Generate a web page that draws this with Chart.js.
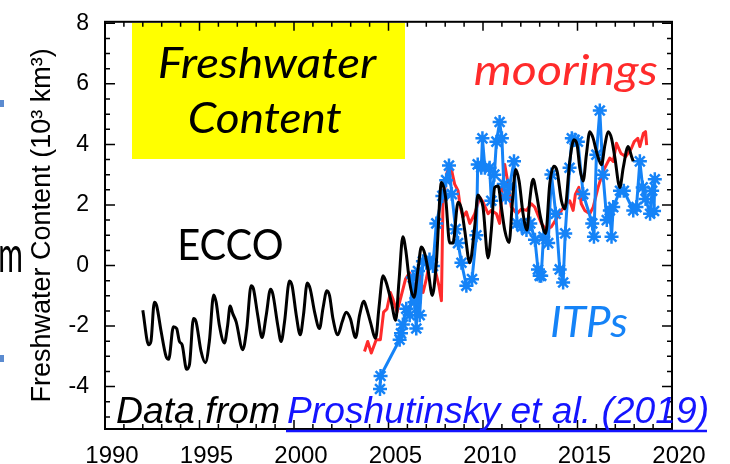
<!DOCTYPE html>
<html>
<head>
<meta charset="utf-8">
<script src="https://cdn.jsdelivr.net/npm/chart.js@4"></script>
<style>
  html, body { margin: 0; padding: 0; background: #fff; }
  canvas { display: block; }
</style>
</head>
<body>
<canvas id="fwc" width="730" height="464"></canvas>
<script>
// tick labels
const xTickYears = [1990, 1995, 2000, 2005, 2010, 2015, 2020];
const yTickValues = [-4, -2, 0, 2, 4, 6, 8];

// ECCO model (black)
const eccoYears = [1992.00,1992.31,1992.43,1992.61,1992.73,1992.97,1993.23,1993.37,1993.62,1993.79,
  1993.94,1994.08,1994.32,1994.47,1994.68,1994.82,1995.08,1995.31,1995.52,1995.75,
  1995.88,1996.05,1996.32,1996.49,1996.62,1996.76,1996.94,1997.29,1997.50,1997.73,
  1997.85,1998.08,1998.31,1998.53,1998.76,1998.88,1999.14,1999.32,1999.50,1999.76,
  1999.90,2000.12,2000.33,2000.50,2000.70,2000.86,2001.09,2001.35,2001.53,2001.74,
  2001.88,2002.06,2002.32,2002.55,2002.76,2002.98,2003.26,2003.47,2003.70,2003.82,
  2004.04,2004.32,2004.49,2004.71,2004.88,2005.15,2005.38,2005.55,2005.76,2005.91,
  2006.12,2006.35,2006.56,2006.74,2006.91,2007.09,2007.32,2007.53,2007.80,2008.02,
  2008.24,2008.41,2008.68,2008.86,2009.03,2009.30,2009.56,2009.73,2009.83,2010.00,
  2010.27,2010.44,2010.62,2010.80,2010.97,2011.15,2011.38,2011.56,2011.73,2011.91,
  2012.12,2012.33,2012.47,2012.65,2012.83,2013.04,2013.32,2013.53,2013.75,2013.92,
  2014.15,2014.33,2014.59,2014.81,2014.98,2015.12,2015.30,2015.47,2015.65,2015.83,
  2016.00,2016.27,2016.45,2016.62,2016.80,2016.98,2017.24,2017.42,2017.68,2017.86,
  2017.95];
const eccoValues = [-1.48,-2.62,-2.51,-1.21,-1.32,-2.18,-3.00,-3.10,-2.02,-2.08,
  -2.51,-2.62,-3.43,-3.27,-1.75,-1.86,-2.83,-3.21,-2.51,-0.97,
  -1.21,-1.97,-2.56,-1.97,-1.34,-1.59,-1.86,-2.78,-2.08,-0.67,
  -0.76,-1.64,-2.38,-1.64,-0.78,-0.94,-1.97,-2.51,-1.86,-0.51,
  -0.67,-1.64,-2.29,-1.64,-0.58,-0.78,-1.54,-2.08,-1.43,-0.83,
  -0.99,-1.75,-2.29,-1.86,-1.54,-1.75,-2.38,-1.64,-1.18,-1.37,
  -1.86,-2.40,-1.43,-0.34,-0.56,-1.21,-1.81,-0.56,0.95,0.52,
  -0.56,-1.05,-0.13,0.61,0.41,-0.13,-0.99,0.09,2.74,2.25,
  0.74,0.74,2.09,1.87,1.17,0.09,1.28,2.33,2.25,1.93,
  0.25,1.17,2.58,2.63,1.93,1.17,0.76,2.14,3.17,2.79,
  1.71,1.17,2.14,2.85,2.36,1.60,1.06,2.69,3.28,3.12,
  2.14,1.87,3.44,4.15,3.98,3.23,2.79,3.66,4.42,4.20,
  3.77,3.33,3.98,4.42,4.20,3.55,2.58,3.23,3.93,3.60,
  3.44];

// moorings (red)
const mooringYears = [2003.73,2003.90,2004.09,2004.35,2004.57,2004.74,2004.92,2005.10,2005.23,2005.45,
  2005.68,2005.90,2006.11,2006.29,2006.47,2006.65,2006.83,2007.00,2007.17,2007.44,
  2007.67,2007.80,2007.88,2008.09,2008.27,2008.50,2008.68,2008.80,2008.94,2009.12,
  2009.30,2009.56,2009.83,2010.00,2010.27,2010.44,2010.71,2010.88,2011.00,2011.15,
  2011.33,2011.50,2011.80,2012.03,2012.30,2012.56,2012.74,2012.91,2013.09,2013.35,
  2013.62,2013.89,2014.15,2014.41,2014.59,2014.77,2014.89,2015.07,2015.20,2015.38,
  2015.65,2015.83,2016.09,2016.36,2016.71,2016.89,2017.06,2017.30,2017.55,2017.86,
  2018.00,2018.19,2018.30,2018.48,2018.60,2018.66];
const mooringValues = [-2.84,-2.51,-2.89,-2.45,-2.45,-1.54,-1.43,-0.89,-1.10,-1.54,
  -0.99,-0.45,-0.24,-0.56,-0.78,-0.34,-0.89,-0.45,0.09,-0.07,
  -0.67,-1.16,2.04,3.06,3.34,2.69,2.47,1.93,1.60,1.77,
  1.39,1.70,2.25,2.10,1.71,1.82,1.71,1.39,2.40,3.34,
  2.69,1.93,1.71,1.87,1.82,2.04,1.93,1.66,1.39,1.17,
  1.28,1.55,1.82,2.04,2.14,1.82,2.36,2.58,2.04,1.82,
  1.71,1.93,2.58,3.12,3.55,3.44,4.04,3.70,3.60,3.88,
  4.09,4.20,3.93,4.36,4.42,3.98];

// ITPs (blue, asterisks)
const itpYears = [2004.55,2004.58,2005.59,2005.66,2005.76,2005.94,2006.12,2006.29,2006.38,2006.47,
  2006.56,2006.65,2006.82,2007.00,2007.17,2007.35,2007.53,2007.85,2008.05,2008.20,
  2008.35,2008.55,2008.68,2008.86,2009.12,2009.42,2009.65,2009.72,2009.91,2009.97,
  2010.10,2010.35,2010.44,2010.60,2010.71,2010.88,2011.00,2011.10,2011.20,2011.40,
  2011.64,2011.80,2012.05,2012.30,2012.50,2012.75,2012.91,2013.00,2013.08,2013.20,
  2013.45,2013.62,2013.85,2014.06,2014.24,2014.35,2014.58,2014.70,2014.85,2015.02,
  2015.30,2015.78,2015.87,2016.00,2016.18,2016.35,2016.55,2016.71,2016.80,2016.89,
  2017.25,2017.45,2017.95,2018.12,2018.30,2018.45,2018.60,2018.84,2018.95,2019.09,
  2019.05];
const itpValues = [-4.08,-3.65,-2.45,-2.24,-1.95,-1.43,-1.64,-0.40,-1.21,-2.08,
  -0.18,-1.64,0.14,0.09,0.20,-0.02,1.39,2.30,2.82,3.30,
  2.36,1.20,0.74,0.09,-0.67,-0.45,1.00,3.34,3.23,4.20,
  3.23,3.23,2.14,3.00,4.09,4.74,4.20,2.69,2.25,2.60,
  3.44,1.39,1.28,1.17,1.39,0.85,-0.13,-0.34,-0.34,0.95,
  0.74,3.01,1.71,-0.13,-0.56,1.06,3.23,4.20,4.15,4.09,
  2.36,1.39,0.95,3.66,5.12,3.00,1.50,1.82,0.95,1.93,
  2.47,2.47,1.82,1.93,3.44,2.58,2.20,1.71,2.47,2.85,
  1.80];

const BLUE = '#1583f7';
const RED = '#ff2b2b';

function pairs(xs, ys) {
  return xs.map((x, i) => ({ x: x, y: ys[i] }));
}

// draw text so that its ink fills [x0, x1] horizontally at the given baseline
function fitText(ctx, text, x0, x1, baseline, font, color) {
  ctx.save();
  ctx.font = font;
  ctx.textBaseline = 'alphabetic';
  const m = ctx.measureText(text);
  const ink = m.actualBoundingBoxLeft + m.actualBoundingBoxRight;
  const sx = (x1 - x0) / ink;
  ctx.translate(x0 + m.actualBoundingBoxLeft * sx, baseline);
  ctx.scale(sx, 1);
  ctx.fillStyle = color;
  ctx.fillText(text, 0, 0);
  ctx.restore();
}

const framePlugin = {
  id: 'frame',
  beforeDatasetsDraw(chart) {
    const ctx = chart.ctx;
    ctx.save();
    ctx.fillStyle = '#ffff00';
    ctx.fillRect(132, 23, 273, 136);
    ctx.restore();
    fitText(ctx, 'Freshwater', 160, 377, 78, 'italic 42px Lato', '#000');
    fitText(ctx, 'Content', 190, 342, 133, 'italic 42px Lato', '#000');
  },
  afterDraw(chart) {
    const { ctx, chartArea: a, scales: { x, y } } = chart;
    ctx.save();
    ctx.strokeStyle = '#000';
    ctx.lineWidth = 2;
    ctx.strokeRect(a.left, a.top, a.right - a.left, a.bottom - a.top);
    ctx.lineWidth = 1.5;
    ctx.beginPath();
    for (let yr = 1990; yr <= 2020; yr++) {
      const px = x.getPixelForValue(yr);
      const len = yr % 5 === 0 ? 9 : 5;
      ctx.moveTo(px, a.bottom); ctx.lineTo(px, a.bottom - len);
      ctx.moveTo(px, a.top); ctx.lineTo(px, a.top + len);
    }
    for (let v = -5; v <= 8; v += 0.5) {
      const py = y.getPixelForValue(v);
      const len = v % 2 === 0 ? 10 : 5;
      ctx.moveTo(a.left, py); ctx.lineTo(a.left + len, py);
      ctx.moveTo(a.right, py); ctx.lineTo(a.right - len, py);
    }
    ctx.stroke();

    // bits of the slide at the left edge
    ctx.fillStyle = '#5b8bd0';
    ctx.fillRect(0, 100, 4, 7);
    ctx.fillRect(0, 355, 4, 7);
    ctx.restore();
    fitText(ctx, 'm', 0, 21, 272, '50px Lato', '#000');

    fitText(ctx, 'moorings', 475, 657, 85, 'italic 42px Lato', RED);
    fitText(ctx, 'ECCO', 180, 282, 260, '42px Lato', '#000');
    fitText(ctx, 'ITPs', 552, 627, 337, 'italic 42px Lato', BLUE);
    fitText(ctx, 'Data from', 117, 279, 423, 'italic 36px "Liberation Sans"', '#000');
    fitText(ctx, 'Proshutinsky et al. (2019)', 288, 707, 423, 'italic 36px "Liberation Sans"', '#1414ff');
    ctx.save();
    ctx.strokeStyle = '#1414ff';
    ctx.lineWidth = 2.5;
    ctx.beginPath();
    ctx.moveTo(286, 431); ctx.lineTo(707, 431);
    ctx.stroke();
    ctx.restore();
  }
};

new Chart(document.getElementById('fwc'), {
  type: 'line',
  data: {
    datasets: [{
      label: 'ECCO',
      data: pairs(eccoYears, eccoValues),
      borderColor: '#000',
      borderWidth: 3,
      cubicInterpolationMode: 'monotone',
      pointRadius: 0,
      borderJoinStyle: 'round'
    }, {
      label: 'ITPs',
      data: pairs(itpYears, itpValues),
      borderColor: BLUE,
      borderWidth: 3,
      tension: 0,
      pointStyle: 'star',
      pointRadius: 7,
      pointBorderWidth: 2.5,
      pointBorderColor: BLUE,
      pointBackgroundColor: BLUE,
      borderJoinStyle: 'round'
    }, {
      label: 'moorings',
      data: pairs(mooringYears, mooringValues),
      borderColor: RED,
      borderWidth: 3,
      tension: 0,
      pointRadius: 0,
      borderJoinStyle: 'round'
    }]
  },
  options: {
    responsive: false,
    animation: false,
    devicePixelRatio: 1,
    layout: { padding: { top: 15, right: 58, left: 0, bottom: 0 } },
    plugins: { legend: { display: false }, tooltip: { enabled: false } },
    scales: {
      x: {
        type: 'linear',
        min: 1990,
        max: 2020,
        afterFit: s => { s.height = 35; },
        afterBuildTicks: s => { s.ticks = xTickYears.map(v => ({ value: v })); },
        grid: { display: false },
        border: { display: false },
        ticks: {
          autoSkip: false,
          maxRotation: 0,
          padding: 5,
          labelOffset: 7,
          color: '#000',
          font: { family: 'Liberation Sans', size: 24 },
          callback: v => String(v)
        }
      },
      y: {
        min: -5.4,
        max: 8.05,
        afterFit: s => { s.width = 105; },
        afterBuildTicks: s => { s.ticks = yTickValues.map(v => ({ value: v })); },
        grid: { display: false },
        border: { display: false },
        ticks: {
          padding: 8,
          color: '#000',
          font: { family: 'Liberation Sans', size: 23 }
        },
        title: {
          display: true,
          text: 'Freshwater Content (10³ km³)',
          color: '#000',
          font: { family: 'Liberation Sans', size: 27 },
          padding: { top: 26, bottom: 0 }
        }
      }
    }
  },
  plugins: [framePlugin]
});
</script>
</body>
</html>
